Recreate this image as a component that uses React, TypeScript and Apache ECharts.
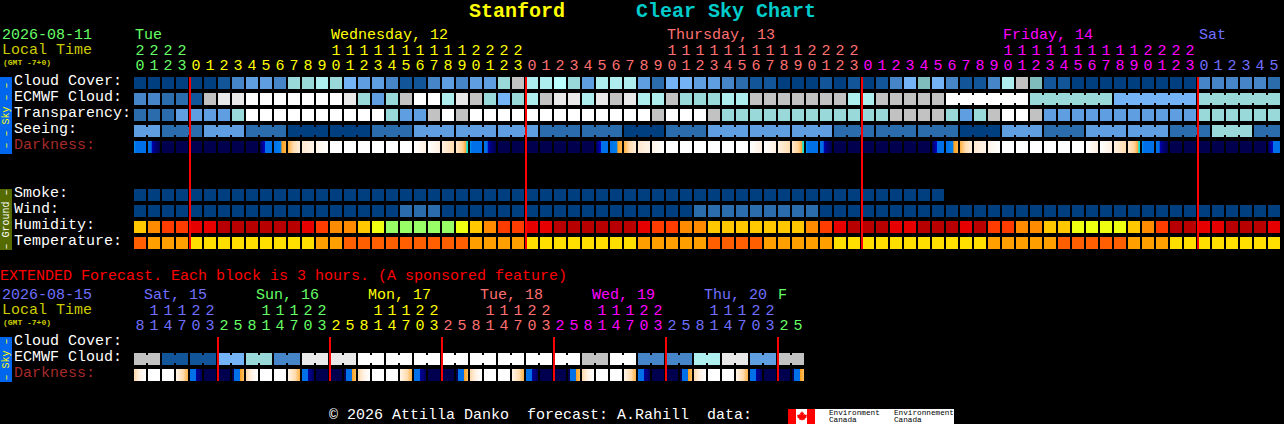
import React, { useEffect, useRef } from "react";
import * as echarts from "echarts";

// ---------- categories / tick labels ----------
const mainRows = ["Cloud Cover:", "ECMWF Cloud:", "Transparency:", "Seeing:", "Darkness:", "", "", "Smoke:", "Wind:", "Humidity:", "Temperature:"];
const extRows = ["Cloud Cover:", "ECMWF Cloud:", "Darkness:"];

const mainUnits = ("0123" + "012345678901234567890123" + "012345678901234567890123" + "012345678901234567890123" + "012345").split("");
const mainTens = ("2222" + "          11111111112222" + "          11111111112222" + "          11111111112222" + "      ").split("");
const extUnits = ("81470325" + "81470325" + "81470325" + "81470325" + "81470325" + "81470325").split("");
const extTens = (" 11122  " + " 11122  " + " 11122  " + " 11122  " + " 11122  " + " 11122  ").split("");

const mainDays = ["Tue", "Wednesday, 12", "Thursday, 13", "Friday, 14", "Sat"];
const mainDayCols = [0, 14, 38, 62, 76];
const mainDayColors = ["#66ff66", "#ffff00", "#ff7070", "#ff00ff", "#7070ff"];
const mainDayStarts = [0, 4, 28, 52, 76];
const mainMidnights = [4, 28, 52, 76];

const extDays = ["Sat, 15", "Sun, 16", "Mon, 17", "Tue, 18", "Wed, 19", "Thu, 20", "F"];
const extDayCols = [1, 9, 17, 25, 33, 41, 46];
const extDayColors = ["#7070ff", "#66ff66", "#ffff00", "#ff7070", "#ff00ff", "#7070ff", "#66ff66"];
const extDayStarts = [0, 6, 14, 22, 30, 38, 46];
const extMidnights = [6, 14, 22, 30, 38, 46];

// ---------- series values (indices into palettes) ----------
const skyPalette = ["#003f7f", "#135599", "#2b6cad", "#4585c8", "#5f9ee0", "#75b3f7", "#99d9d9", "#aeeeee", "#c2c2c2", "#e9e9e9", "#ffffff", "#bcffff", "#7fbcbc"];
const humidityPalette = ["#99ff66", "#eeff11", "#ffc800", "#ff8c00", "#ff3c00", "#e60000", "#b80000"];
const temperaturePalette = ["#ffdf00", "#ff9f00", "#ff5f00"];

const cloudCover = [
  0, 0, 0, 0, 0, 0, 1, 3, 4, 4, 3, 6, 6, 7, 6, 5, 4, 4, 3, 1, 1,
  3, 4, 3, 4, 4, 6, 8, 7, 7, 11, 6, 4, 7, 7, 7, 4, 2, 5, 5, 4, 4, 3, 2, 1, 1, 0, 0, 0, 1, 0, 1,
  0, 1, 3, 5, 12, 5, 3, 1, 1, 3, 7, 8, 12, 1, 1, 0, 0, 0, 0, 0, 0, 0, 0, 0, 3, 3, 3, 3, 3, 2,
];
const ecmwf = [
  3, 3, 2, 2, 1, 8, 9, 9, 10, 10, 10, 10, 10, 10, 10, 9, 6, 4, 6, 8, 10,
  10, 7, 9, 8, 6, 5, 6, 7, 8, 9, 9, 7, 9, 8, 9, 7, 7, 8, 6, 6, 6, 7, 7, 8, 8, 8, 8, 8, 8, 8, 7,
  7, 8, 8, 8, 8, 8, 10, 10, 10, 10, 10, 10, 6, 6, 6, 6, 6, 6, 5, 5, 5, 5, 5, 5, 6, 6, 6, 6, 6, 6,
];
const transparency = [
  2, 2, 2, 4, 4, 4, 4, 6, 10, 10, 10, 10, 10, 10, 10, 10, 10, 10, 6, 4, 4,
  8, 10, 8, 10, 10, 10, 10, 10, 10, 10, 10, 10, 10, 10, 10, 10, 8, 10, 10, 10, 8, 6, 6, 6, 6, 6, 6, 6, 6, 6, 6,
  6, 6, 8, 8, 8, 8, 6, 4, 6, 8, 10, 10, 8, 4, 4, 4, 4, 4, 4, 4, 4, 4, 4, 4, 6, 6, 6, 6, 6, 6,
];
const seeing = [
  4, 4, 2, 2, 2, 4, 4, 4, 2, 2, 2, 0, 0, 0, 0, 0, 0, 2, 2, 2, 4,
  4, 4, 4, 4, 4, 4, 4, 4, 2, 2, 2, 2, 2, 2, 0, 0, 0, 2, 2, 2, 4, 4, 4, 4, 4, 4, 4, 4, 4, 2, 2,
  2, 2, 2, 2, 2, 2, 2, 0, 0, 0, 4, 4, 4, 2, 2, 2, 4, 4, 4, 4, 4, 4, 2, 2, 2, 6, 6, 6, 2, 2,
];
const smoke = [
  0, 0, 0, 0, 0, 0, 0, 0, 0, 0, 0, 0, 0, 0, 0, 0, 0, 0, 0, 0, 0, 0, 0, 0, 0, 0, 0, 0, 0,
  0, 0, 0, 0, 0, 0, 0, 0, 0, 0, 0, 0, 0, 0, 0, 0, 0, 0, 0, 0, 0, 0, 0, 0, 0, 0, 0, 0, 0,
];
const wind = [
  0, 0, 0, 0, 0, 0, 0, 0, 0, 0, 0, 0, 0, 0, 0, 0, 0, 0, 0, 2, 2, 2,
  0, 0, 0, 0, 0, 0, 0, 0, 0, 0, 0, 0, 0, 0, 0, 0, 0, 0, 2, 2, 2, 2, 2, 2, 2, 2, 2, 0, 0, 0,
  0, 0, 0, 0, 0, 0, 0, 0, 0, 0, 0, 0, 0, 0, 0, 0, 0, 0, 0, 0, 0, 0, 0, 0, 0, 0, 0, 0, 0, 0,
];
const humidity = [
  2, 3, 4, 4, 5, 5, 6, 6, 6, 6, 6, 6, 5, 4, 3, 3, 2, 1, 0, 0, 0,
  0, 0, 1, 2, 3, 4, 4, 5, 5, 6, 6, 6, 6, 6, 6, 5, 4, 4, 3, 3, 2, 2, 2, 2, 2, 2, 2, 3, 4, 5, 6,
  6, 6, 5, 5, 6, 6, 6, 5, 6, 4, 4, 3, 3, 2, 2, 1, 1, 1, 1, 2, 3, 4, 6, 6, 5, 5, 6, 6, 6, 5,
];
const temperature = [
  2, 1, 1, 1, 0, 0, 0, 0, 0, 0, 0, 0, 0, 1, 1, 2, 2, 2, 2, 2, 2,
  2, 2, 2, 1, 1, 1, 1, 0, 0, 0, 0, 0, 0, 0, 0, 1, 1, 1, 1, 1, 2, 2, 2, 2, 1, 1, 1, 1, 1, 0, 0,
  0, 0, 0, 0, 0, 0, 0, 0, 0, 1, 1, 1, 1, 1, 2, 2, 2, 2, 2, 1, 1, 1, 0, 0, 0, 0, 0, 0, 0, 0,
];
const darkness = "bcNNNNNNNdefghwwwwwwiijkbcNNNNNNNdefghwwwwwwiijkbcNNNNNNNdefghwwwwwwiijkbcNNNNNNNd".split("");
const extCloud = [
  8, 8, 1, 1, 1, 1, 5, 5, 6, 6, 3, 3, 9, 9, 9, 9, 10, 10, 10, 10, 10, 10, 10, 10,
  10, 10, 10, 10, 10, 10, 10, 10, 8, 8, 10, 10, 3, 3, 3, 3, 7, 7, 9, 9, 4, 4, 8, 8,
];
const extDarkness = ("qwwrsNNt" + "qwwrsNNt" + "qwwrsNNt" + "qwwrsNNt" + "qwwrsNNt" + "qwwrsNNt").split("");

// Colour stops of each kind of darkness block.
const darknessStops: Record<string, [number, string][]> = {
  N: [[0, "#00004f"], [1, "#00004f"]],
  b: [[0, "#0095f0"], [0.15, "#0070e8"], [1, "#0070e8"]],
  c: [[0, "#0070e8"], [0.28, "#0070e8"], [0.32, "#0000b0"], [0.6, "#00007a"], [1, "#00004f"]],
  d: [[0, "#00004f"], [0.25, "#0000a0"], [0.38, "#0000c0"], [0.4, "#0070e8"], [1, "#0070e8"]],
  e: [[0, "#0070e8"], [0.6, "#0080ec"], [0.64, "#ffa020"], [1, "#ffb848"]],
  f: [[0, "#ffb040"], [0.45, "#ffdcae"], [1, "#ffeedd"]],
  g: [[0, "#ffe8d0"], [1, "#fff4e8"]],
  h: [[0, "#fff4e8"], [1, "#ffffff"]],
  w: [[0, "#ffffff"], [1, "#ffffff"]],
  i: [[0, "#ffffff"], [1, "#fff0e0"]],
  j: [[0, "#fff0e0"], [1, "#ffdcb0"]],
  k: [[0, "#ffe8d0"], [0.55, "#ffd090"], [0.84, "#ffa030"], [0.88, "#30e0c0"], [1, "#00e0e0"]],
  q: [[0, "#ffd9ac"], [0.5, "#fff4e8"], [1, "#ffffff"]],
  r: [[0, "#fff4e8"], [0.6, "#ffdcae"], [1, "#ffb040"]],
  s: [[0, "#0070e8"], [0.48, "#0070e8"], [0.5, "#0000a0"], [1, "#00005a"]],
  t: [[0, "#00004f"], [0.16, "#00004f"], [0.2, "#0070e8"], [0.64, "#0070e8"], [0.68, "#ffa020"], [1, "#ffc060"]],
};

const MONO = '"Liberation Mono", monospace';

const colorsByDay = (n: number, starts: number[], colors: string[]) =>
  Array.from({ length: n }, (_, i) => {
    let c = colors[0];
    starts.forEach((s, k) => { if (i >= s) c = colors[k]; });
    return c;
  });

const topAxis = (gridIndex: number, data: string[], offset: number, colors: string[]) => ({
  type: "category", gridIndex, data, position: "top", offset,
  axisLine: { show: false }, axisTick: { show: false }, splitLine: { show: false },
  axisLabel: {
    interval: 0, margin: 1, fontFamily: MONO, fontSize: 15, padding: [0, 2, 0, 0],
    color: (_v: string, i: number) => colors[i],
  },
});

const rowAxis = (gridIndex: number, data: string[]) => ({
  type: "category", gridIndex, data, inverse: true,
  axisLine: { show: false }, axisTick: { show: false }, splitLine: { show: false },
  axisLabel: {
    interval: 0, align: "left", margin: 120, fontFamily: MONO, fontSize: 15,
    verticalAlign: "bottom", lineHeight: 3,
    color: (v: string) => (v === "Darkness:" ? "#a52a2a" : "#ffffff"),
  },
});

type Link = (i: number) => boolean;
const blockSeries = (
  name: string, axis: number, row: number, values: number[], palette: string[], link?: Link,
) => ({
  type: "custom", name, xAxisIndex: axis * 2, yAxisIndex: axis, silent: true,
  encode: { x: 0, y: 1 },
  data: values.map((v, i) => [i, row, v]),
  renderItem: (_p: any, api: any) => {
    const i = api.value(0);
    const c = api.coord([i, row]);
    const w = api.size([1, 0])[0];
    const x = c[0] - w / 2;
    const y = c[1] - 6;
    const fill = palette[api.value(2)];
    const children: any[] = [{ type: "rect", shape: { x, y, width: w - 2, height: 12 }, style: { fill } }];
    if (link && link(i) && i < values.length - 1) {
      children.push({ type: "rect", shape: { x: x + w - 2, y: y + 2, width: 2, height: 8 }, style: { fill } });
    }
    return { type: "group", children };
  },
});

const darknessSeries = (name: string, axis: number, row: number, codes: string[]) => ({
  type: "custom", name, xAxisIndex: axis * 2, yAxisIndex: axis, silent: true,
  encode: { x: 0, y: 1 },
  data: codes.map((_c, i) => [i, row]),
  renderItem: (p: any, api: any) => {
    const c = api.coord([api.value(0), row]);
    const w = api.size([1, 0])[0];
    const stops = darknessStops[codes[p.dataIndex]].map(([offset, color]) => ({ offset, color }));
    return {
      type: "rect",
      shape: { x: c[0] - w / 2, y: c[1] - 6, width: w - 2, height: 12 },
      style: { fill: new echarts.graphic.LinearGradient(0, 0, 1, 0, stops) },
    };
  },
});

const midnightSeries = (name: string, axis: number, cols: number[], lastRow: number) => ({
  type: "custom", name, xAxisIndex: axis * 2, yAxisIndex: axis, silent: true, z: 5,
  encode: { x: 0, y: 1 },
  data: cols.map((c) => [c, 0]),
  renderItem: (_p: any, api: any) => {
    const a = api.coord([api.value(0), 0]);
    const b = api.coord([api.value(0), lastRow]);
    const w = api.size([1, 0])[0];
    return {
      type: "rect",
      shape: { x: a[0] - w / 2 - 1, y: a[1] - 6, width: 2, height: b[1] - a[1] + 12 },
      style: { fill: "#ff0000" },
    };
  },
});

const dayLabelSeries = (name: string, axis: number, cols: number[], labels: string[], colors: string[], rise: number, nudge: (t: string) => number) => ({
  type: "custom", name, xAxisIndex: axis * 2, yAxisIndex: axis, silent: true,
  encode: { x: 0, y: 1 },
  data: cols.map((c) => [c, 0]),
  renderItem: (p: any, api: any) => {
    const c = api.coord([api.value(0), 0]);
    const w = api.size([1, 0])[0];
    const text = labels[p.dataIndex];
    return {
      type: "text", x: c[0] - w / 2 + nudge(text), y: c[1] - rise,
      style: { text, fill: colors[p.dataIndex], font: `15px ${MONO}`, align: "left", verticalAlign: "middle" },
    };
  },
});

const label = (text: string, x: number, y: number, fill: string, size = 15, weight = "normal") => ({
  type: "text", x, y,
  style: { text, fill, font: `${weight} ${size}px ${MONO}`, align: "left", verticalAlign: "middle" },
});

const sideBar = (y: number, h: number, fill: string, text: string, color: string, size: number) => [
  { type: "rect", shape: { x: 0, y, width: 12, height: h }, style: { fill } },
  {
    type: "text", x: 6, y: y + h / 2, rotation: Math.PI / 2,
    style: { text, fill: color, font: `${size}px ${MONO}`, align: "center", verticalAlign: "middle" },
  },
];

const LEAF = "M5 0 L6 2 L7 1.5 L6.6 4 L8 3 L8.4 4 L10 3.8 L9.4 5.6 L10 6 L7.4 8 L7.7 9 L5.2 8.7 L5.2 10 L4.8 10 L4.8 8.7 L2.3 9 L2.6 8 L0 6 L0.6 5.6 L0 3.8 L1.6 4 L2 3 L3.4 4 L3 1.5 L4 2 Z";
echarts.graphic.registerShape("mapleLeaf", echarts.graphic.extendPath(LEAF, {}));

export default function App() {
  const ref = useRef<HTMLDivElement>(null);
  useEffect(() => {
    document.body.style.margin = "0";
    document.body.style.background = "#000";
    document.body.style.overflow = "hidden";
    const chart = echarts.init(ref.current!, undefined, { renderer: "svg", width: 1284, height: 424 });
    const mainColors = colorsByDay(82, mainDayStarts, mainDayColors);
    const extColors = colorsByDay(48, extDayStarts, extDayColors);
    const seeingLink: Link = (i) => (i + 2) % 3 !== 0;
    const ecmwfLink: Link = (i) => i >= 58 && ecmwf[i] === ecmwf[i + 1];
    chart.setOption({
      animation: false,
      backgroundColor: "#000000",
      title: [
        { text: "Stanford", left: 469, top: 1, padding: 0, textStyle: { color: "#ffff00", fontFamily: MONO, fontWeight: "bold", fontSize: 20 } },
        { text: "Clear Sky Chart", left: 636, top: 1, padding: 0, textStyle: { color: "#00cccc", fontFamily: MONO, fontWeight: "bold", fontSize: 20 } },
      ],
      grid: [
        { left: 134, top: 75, width: 1148, height: 176 },
        { left: 134, top: 335, width: 672, height: 48 },
      ],
      xAxis: [
        topAxis(0, mainUnits, 0, mainColors),
        topAxis(0, mainTens, 15, mainColors),
        topAxis(1, extUnits, 0, extColors),
        topAxis(1, extTens, 15, extColors),
      ],
      yAxis: [rowAxis(0, mainRows), rowAxis(1, extRows)],
      series: [
        blockSeries("Cloud Cover", 0, 0, cloudCover, skyPalette),
        blockSeries("ECMWF Cloud", 0, 1, ecmwf, skyPalette, ecmwfLink),
        blockSeries("Transparency", 0, 2, transparency, skyPalette),
        blockSeries("Seeing", 0, 3, seeing, skyPalette, seeingLink),
        darknessSeries("Darkness", 0, 4, darkness),
        blockSeries("Smoke", 0, 7, smoke, skyPalette),
        blockSeries("Wind", 0, 8, wind, skyPalette),
        blockSeries("Humidity", 0, 9, humidity, humidityPalette),
        blockSeries("Temperature", 0, 10, temperature, temperaturePalette),
        midnightSeries("Midnight", 0, mainMidnights, 10),
        dayLabelSeries("Days", 0, mainDayCols, mainDays, mainDayColors, 48, () => 1),
        blockSeries("Extended ECMWF Cloud", 1, 1, extCloud, skyPalette, (i) => i % 2 === 0),
        darknessSeries("Extended Darkness", 1, 2, extDarkness),
        midnightSeries("Extended Midnight", 1, extMidnights, 2),
        dayLabelSeries("Extended Days", 1, extDayCols, extDays, extDayColors, 48, (t) => (t.length > 1 ? -4 : 0)),
      ],
      graphic: [
        label("2026-08-11", 2, 35, "#66ff66"),
        label("Local Time", 2, 50, "#cccc00"),
        label("(GMT -7+0)", 3, 62, "#cccc00", 8, "bold"),
        label("EXTENDED Forecast. Each block is 3 hours. (A sponsored feature)", 0, 276, "#ff0000"),
        label("2026-08-15", 2, 295, "#7070ff"),
        label("Local Time", 2, 310, "#cccc00"),
        label("(GMT -7+0)", 3, 322, "#cccc00", 8, "bold"),
        ...sideBar(77, 77, "#0066ee", "– – Sky – –", "#ffff00", 10),
        ...sideBar(189, 61, "#556b00", "– Ground –", "#ffffff", 10),
        ...sideBar(337, 45, "#0066ee", "– Sky –", "#ffff00", 10),
        label("© 2026 Attilla Danko  forecast: A.Rahill  data:", 329, 415, "#ffffff"),
        { type: "rect", shape: { x: 788, y: 409, width: 166, height: 15 }, style: { fill: "#ffffff" } },
        { type: "rect", shape: { x: 788, y: 409, width: 8, height: 15 }, style: { fill: "#ff0000" } },
        { type: "rect", shape: { x: 807, y: 409, width: 8, height: 15 }, style: { fill: "#ff0000" } },
        { type: "mapleLeaf", x: 797, y: 411, style: { fill: "#ff0000" } },
        label("Environment", 829, 413, "#000000", 7.7),
        label("Canada", 829, 420, "#000000", 7.7),
        label("Environnement", 894, 413, "#000000", 7.7),
        label("Canada", 894, 420, "#000000", 7.7),
      ],
    });
    return () => chart.dispose();
  }, []);
  return <div ref={ref} style={{ width: 1284, height: 424, background: "#000" }} />;
}
